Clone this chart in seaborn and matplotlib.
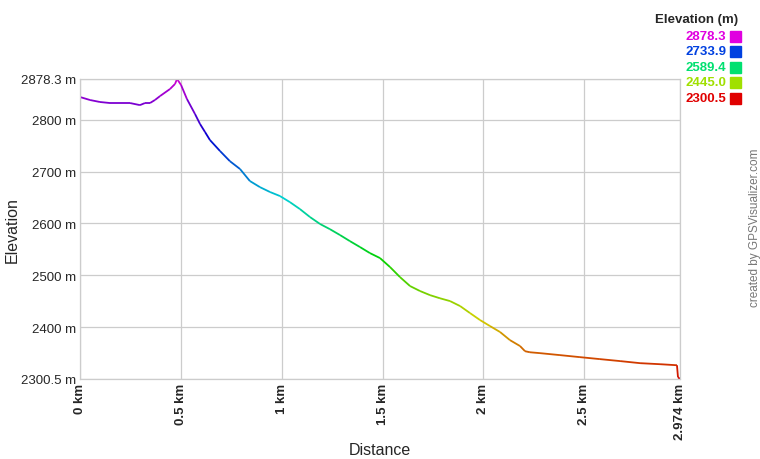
import colorsys
import numpy as np
import seaborn as sns
import matplotlib.pyplot as plt
from matplotlib.collections import LineCollection

# Profile (distance in km, elevation in m)
dist_km = [0.000, 0.050, 0.099, 0.149, 0.198, 0.248, 0.297, 0.322, 0.347, 0.372,
           0.397, 0.446, 0.471, 0.481, 0.501, 0.530, 0.570, 0.595, 0.620, 0.644,
           0.694, 0.743, 0.793, 0.842, 0.892, 0.942, 0.991, 1.041, 1.090, 1.140,
           1.190, 1.239, 1.289, 1.338, 1.388, 1.437, 1.487, 1.537, 1.586, 1.636,
           1.685, 1.735, 1.784, 1.834, 1.884, 1.933, 1.983, 2.032, 2.082, 2.131,
           2.181, 2.206, 2.230, 2.280, 2.379, 2.478, 2.577, 2.677, 2.776, 2.875,
           2.959, 2.964, 2.974]
elev_m = [2843.6, 2837.8, 2834.0, 2832.0, 2832.0, 2832.0, 2828.0, 2832.0, 2832.0, 2838.0,
          2845.5, 2859.0, 2868.7, 2878.3, 2866.7, 2839.8, 2810.9, 2791.6, 2776.0, 2760.8,
          2739.6, 2720.0, 2705.0, 2681.8, 2670.0, 2660.6, 2652.9, 2641.0, 2627.8, 2612.4,
          2599.0, 2589.0, 2577.7, 2566.0, 2554.6, 2543.0, 2533.4, 2516.0, 2496.8, 2479.5,
          2470.0, 2462.0, 2456.0, 2450.6, 2441.0, 2427.5, 2414.0, 2402.5, 2391.0, 2375.4,
          2364.0, 2354.0, 2352.0, 2350.3, 2346.5, 2342.6, 2338.8, 2335.0, 2331.0, 2329.0,
          2327.0, 2304.0, 2300.5]

elev_min, elev_max = 2300.5, 2878.3
legend_vals = ["2878.3", "2733.9", "2589.4", "2445.0", "2300.5"]
legend_cols = ["#e000e0", "#0040e0", "#00e070", "#a0e000", "#e00000"]
x_ticks = [0, 0.5, 1, 1.5, 2, 2.5, 2.974]
x_labels = ["0 km", "0.5 km", "1 km", "1.5 km", "2 km", "2.5 km", "2.974 km"]
y_ticks = [2300.5, 2400, 2500, 2600, 2700, 2800, 2878.3]
y_labels = ["2300.5 m", "2400 m", "2500 m", "2600 m", "2700 m", "2800 m", "2878.3 m"]

sns.set_style("whitegrid")
plt.rcParams['font.family'] = ['Liberation Sans', 'DejaVu Sans']

fig = plt.figure(figsize=(7.6, 4.6), dpi=100)
ax = fig.add_axes([80/760, 80/460, 600/760, 300/460])


def elev_color(e):
    # rainbow by elevation: red at the bottom, magenta at the top
    t = (e - elev_min) / (elev_max - elev_min)
    return colorsys.hsv_to_rgb(t * 300 / 360, 1.0, 0.82)


pts = np.column_stack([dist_km, elev_m])
segs = np.stack([pts[:-1], pts[1:]], axis=1)
cols = [elev_color((a + b) / 2) for a, b in zip(elev_m[:-1], elev_m[1:])]
ax.add_collection(LineCollection(segs, colors=cols, linewidths=1.3))

ax.set_xlim(0, 2.974)
ax.set_ylim(elev_min, elev_max)
ax.set_xticks(x_ticks)
ax.set_xticklabels(x_labels, rotation=90, fontsize=9.5, fontweight='bold')
ax.set_yticks(y_ticks)
ax.set_yticklabels(y_labels, fontsize=9.5)
ax.tick_params(length=0, pad=3)
ax.grid(True, color='#cccccc', linewidth=0.9)
for s in ax.spines.values():
    s.set_color('#cccccc')
    s.set_linewidth(0.9)

ax.set_xlabel("Distance", fontsize=11.5)
ax.set_ylabel("Elevation", fontsize=11.5)
ax.xaxis.set_label_coords((380 - 80) / 600, -(443 - 380) / 300)
ax.yaxis.set_label_coords(-(80 - 20) / 600, 0.5)

fig.text(697/760, 1 - 20/460, "Elevation (m)", ha='center', va='center',
         fontsize=9.5, fontweight='bold')
for i, (v, c) in enumerate(zip(legend_vals, legend_cols)):
    yy = 1 - (37 + i * 15.5) / 460
    fig.text(726/760, yy, v, ha='right', va='center', fontsize=9.5,
             fontweight='bold', color=c)
    fig.patches.append(plt.Rectangle((730/760, yy - 5.5/460), 11/760, 11/460,
                                     transform=fig.transFigure, color=c))

fig.text(755/760, 1 - 228/460, "created by GPSVisualizer.com", rotation=90,
         ha='center', va='center', fontsize=8.5, color='#777777')

fig.savefig("out.png", dpi=100)
